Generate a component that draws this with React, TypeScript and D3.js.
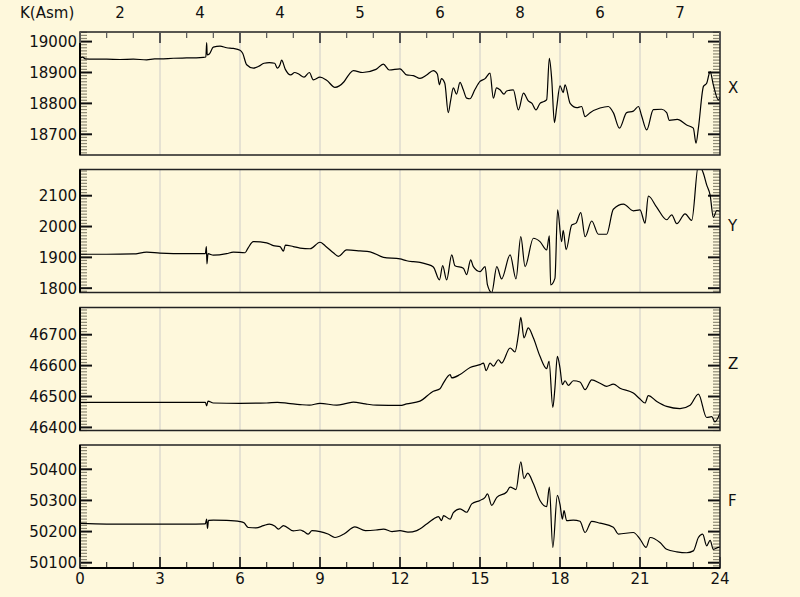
import React from "react";
import * as d3 from "d3";

const kHours = [1.5, 4.5, 7.5, 10.5, 13.5, 16.5, 19.5, 22.5];
const kValues = [2, 4, 4, 5, 6, 8, 6, 7];
const xTickHours = [0, 3, 6, 9, 12, 15, 18, 21, 24];

const seriesNames = ["X", "Y", "Z", "F"];
const seriesDomains: [number, number][] = [
  [18633, 19031],
  [1786, 2185],
  [46390, 46788],
  [50083, 50478],
];
const seriesMajorTicks = [
  [18700, 18800, 18900, 19000],
  [1800, 1900, 2000, 2100],
  [46400, 46500, 46600, 46700],
  [50100, 50200, 50300, 50400],
];

const xData: [number, number][] = [
  [0, 18946], [0.1, 18950], [0.2, 18944], [0.5, 18943], [1, 18943], [1.5, 18942], [2, 18943], [2.5, 18941], [2.8, 18944], [3, 18944], [3.5, 18946], [4, 18947], [4.5, 18948], [4.72, 18950], [4.75, 18997], [4.77, 18957], [4.85, 18960], [5.0, 18982], [5.25, 18985], [5.5, 18980], [5.75, 18978], [6.0, 18972], [6.1, 18962], [6.25, 18925], [6.5, 18914], [6.7, 18920], [6.9, 18930], [7.1, 18932], [7.3, 18930], [7.4, 18914], [7.5, 18925], [7.56, 18940], [7.7, 18910], [7.9, 18892], [8.05, 18900], [8.2, 18895], [8.4, 18885], [8.6, 18900], [8.75, 18876], [9.0, 18885], [9.25, 18875], [9.56, 18852], [9.9, 18870], [10.1, 18895], [10.25, 18906], [10.6, 18900], [11.1, 18910], [11.375, 18927], [11.6, 18908], [12, 18912], [12.25, 18892], [12.5, 18890], [12.75, 18881], [13.0, 18892], [13.25, 18906], [13.4, 18895], [13.48, 18860], [13.55, 18880], [13.68, 18865], [13.81, 18770], [13.9, 18810], [14.0, 18850], [14.12, 18830], [14.25, 18868], [14.37, 18845], [14.5, 18817], [14.62, 18815], [14.81, 18845], [15.0, 18871], [15.19, 18880], [15.375, 18898], [15.5, 18817], [15.62, 18850], [15.75, 18844], [15.9, 18830], [16.0, 18840], [16.25, 18844], [16.44, 18779], [16.63, 18833], [16.81, 18808], [16.95, 18800], [17.1, 18779], [17.25, 18800], [17.4, 18806], [17.5, 18812], [17.6, 18946], [17.69, 18877], [17.79, 18738], [17.88, 18790], [18.0, 18857], [18.12, 18835], [18.19, 18860], [18.38, 18800], [18.63, 18786], [18.81, 18790], [18.94, 18757], [19.13, 18770], [19.5, 18785], [19.81, 18790], [20.0, 18770], [20.23, 18720], [20.5, 18770], [20.75, 18775], [20.94, 18790], [21.06, 18760], [21.25, 18714], [21.5, 18780], [21.81, 18781], [22.0, 18770], [22.1, 18745], [22.4, 18748], [22.75, 18730], [23.0, 18720], [23.1, 18671], [23.19, 18720], [23.38, 18855], [23.5, 18865], [23.63, 18903], [23.75, 18860], [23.94, 18811], [24, 18820],
];

const yData: [number, number][] = [
  [0, 1910], [1, 1910], [2, 1911], [2.5, 1917], [3, 1914], [4, 1912], [4.7, 1912], [4.74, 1935], [4.76, 1879], [4.8, 1912], [5.0, 1907], [5.5, 1912], [5.75, 1917], [6.19, 1915], [6.3, 1930], [6.5, 1951], [7.0, 1947], [7.25, 1938], [7.5, 1935], [7.63, 1920], [7.7, 1940], [8.0, 1935], [8.25, 1930], [8.63, 1928], [9.0, 1949], [9.2, 1937], [9.5, 1915], [9.69, 1903], [10, 1924], [10.5, 1921], [10.88, 1918], [11.38, 1900], [12, 1895], [12.25, 1889], [12.5, 1886], [12.75, 1884], [13, 1878], [13.25, 1869], [13.48, 1827], [13.6, 1873], [13.75, 1827], [13.94, 1908], [14.06, 1873], [14.375, 1865], [14.5, 1844], [14.65, 1892], [14.75, 1870], [15.0, 1854], [15.19, 1870], [15.28, 1811], [15.44, 1786], [15.63, 1870], [15.81, 1830], [16.13, 1908], [16.35, 1830], [16.53, 1967], [16.69, 1870], [17.0, 1962], [17.25, 1951], [17.5, 1924], [17.6, 1970], [17.65, 1811], [17.81, 1832], [17.91, 2054], [18.06, 1951], [18.12, 1988], [18.23, 1925], [18.44, 2005], [18.6, 2011], [18.78, 2045], [18.94, 1967], [19.19, 2018], [19.44, 1975], [19.75, 1975], [20.0, 2056], [20.38, 2073], [20.75, 2051], [21.0, 2054], [21.19, 2011], [21.31, 2099], [21.63, 2062], [22.0, 2022], [22.19, 2038], [22.38, 2009], [22.69, 2041], [22.94, 2020], [23.19, 2200], [23.38, 2172], [23.5, 2135], [23.63, 2102], [23.75, 2030], [23.88, 2052], [24, 2050],
];

const zData: [number, number][] = [
  [0, 46481], [2, 46481], [4, 46481], [4.7, 46481], [4.75, 46470], [4.8, 46485], [5, 46479], [6, 46478], [7, 46479], [7.4, 46481], [7.8, 46478], [8.25, 46474], [8.6, 46472], [9, 46478], [9.63, 46472], [10.0, 46478], [10.25, 46482], [10.7, 46476], [11.13, 46472], [12, 46471], [12.25, 46476], [12.75, 46485], [13.25, 46517], [13.5, 46525], [13.63, 46544], [13.88, 46571], [13.94, 46560], [14.25, 46571], [14.63, 46594], [15.0, 46603], [15.13, 46608], [15.23, 46584], [15.38, 46608], [15.5, 46598], [15.69, 46619], [15.81, 46608], [16.13, 46657], [16.31, 46644], [16.44, 46700], [16.53, 46756], [16.65, 46690], [16.81, 46722], [17.0, 46690], [17.25, 46630], [17.5, 46590], [17.59, 46614], [17.73, 46465], [17.81, 46528], [17.9, 46630], [18.0, 46592], [18.09, 46538], [18.19, 46551], [18.31, 46536], [18.5, 46551], [18.75, 46547], [18.94, 46522], [19.19, 46554], [19.5, 46543], [19.75, 46533], [20, 46540], [20.25, 46527], [20.75, 46511], [21, 46492], [21.19, 46479], [21.31, 46503], [21.63, 46484], [22, 46468], [22.5, 46461], [22.88, 46472], [23.19, 46508], [23.5, 46432], [23.69, 46435], [23.81, 46418], [24, 46446],
];

const fData: [number, number][] = [
  [0, 50226], [1, 50224], [2, 50224], [3, 50224], [4, 50224], [4.7, 50225], [4.75, 50240], [4.78, 50210], [4.82, 50236], [5, 50237], [5.5, 50236], [6, 50232], [6.15, 50228], [6.31, 50213], [6.6, 50212], [6.88, 50219], [7.1, 50224], [7.3, 50218], [7.44, 50208], [7.63, 50219], [8, 50202], [8.25, 50205], [8.4, 50200], [8.56, 50192], [8.7, 50203], [9, 50200], [9.3, 50192], [9.56, 50181], [9.9, 50192], [10.31, 50215], [10.7, 50203], [11.1, 50205], [11.38, 50208], [11.7, 50200], [12, 50203], [12.3, 50198], [12.63, 50203], [13, 50224], [13.25, 50240], [13.44, 50248], [13.56, 50235], [13.63, 50251], [13.88, 50240], [14.0, 50261], [14.25, 50273], [14.5, 50262], [14.69, 50289], [15, 50300], [15.19, 50310], [15.28, 50321], [15.44, 50284], [15.63, 50310], [16, 50327], [16.13, 50343], [16.35, 50335], [16.53, 50424], [16.65, 50370], [16.79, 50388], [17, 50354], [17.25, 50300], [17.5, 50280], [17.6, 50343], [17.73, 50149], [17.9, 50316], [18.0, 50287], [18.09, 50240], [18.15, 50267], [18.25, 50235], [18.5, 50237], [18.75, 50233], [18.94, 50197], [19.19, 50233], [19.5, 50227], [20, 50214], [20.19, 50192], [20.75, 50197], [21, 50176], [21.23, 50149], [21.38, 50181], [21.75, 50165], [22, 50143], [22.38, 50135], [22.75, 50132], [23, 50138], [23.19, 50181], [23.35, 50192], [23.5, 50154], [23.63, 50172], [23.75, 50143], [23.94, 50149], [24, 50150],
];

const allData = [xData, yData, zData, fData];

const W = 800;
const H = 597;
const LEFT = 80;
const RIGHT = 720;
const PANEL_TOPS = [32, 169.5, 307.5, 445];
const PANEL_H = 123;
const FONT = "'DejaVu Sans', Verdana, sans-serif";
const BG = "#fef8dc";
const GRID = "#e6e2d2";
const MINOR = "#8c8872";

export default function App() {
  const x = d3.scaleLinear().domain([0, 24]).range([LEFT, RIGHT]);
  const hourTicks = d3.range(0, 25, 1);

  return (
    <svg
      width={W}
      height={H}
      style={{ position: "absolute", left: 0, top: 0, background: BG, display: "block" }}
      fontFamily={FONT}
    >
      <rect x={0} y={0} width={W} height={H} fill={BG} />
      <text x={20} y={18} fontSize={15} fill="#111">K(Asm)</text>
      {kValues.map((k, i) => (
        <text key={"k" + i} x={x(kHours[i])} y={18} fontSize={15} textAnchor="middle" fill="#111">
          {k}
        </text>
      ))}
      {allData.map((data, p) => {
        const top = PANEL_TOPS[p];
        const bottom = top + PANEL_H;
        const y = d3.scaleLinear().domain(seriesDomains[p]).range([bottom, top]);
        const line = d3
          .line<[number, number]>()
          .x((d) => x(d[0]))
          .y((d) => y(d[1]))
          .curve(d3.curveMonotoneX);
        const [lo, hi] = seriesDomains[p];
        const minorTicks = d3.range(Math.ceil(lo / 10) * 10, hi + 0.001, 10).filter((v) => v % 100 !== 0);
        const clipId = "clip" + p;
        return (
          <g key={"p" + p}>
            <defs>
              <clipPath id={clipId}>
                <rect x={LEFT} y={top} width={RIGHT - LEFT} height={PANEL_H} />
              </clipPath>
            </defs>
            {xTickHours.slice(1, -1).map((h) => (
              <line key={"g" + h} x1={x(h)} x2={x(h)} y1={top} y2={bottom} stroke={GRID} strokeWidth={2} />
            ))}
            {minorTicks.map((v) => (
              <g key={"mt" + v}>
                <line x1={LEFT} x2={LEFT + 7} y1={y(v)} y2={y(v)} stroke={MINOR} strokeWidth={1.2} />
                <line x1={RIGHT - 7} x2={RIGHT} y1={y(v)} y2={y(v)} stroke={MINOR} strokeWidth={1.2} />
              </g>
            ))}
            {seriesMajorTicks[p].map((v) => (
              <g key={"Mt" + v}>
                <line x1={LEFT} x2={LEFT + 12} y1={y(v)} y2={y(v)} stroke="#111" strokeWidth={2} />
                <line x1={RIGHT - 12} x2={RIGHT} y1={y(v)} y2={y(v)} stroke="#111" strokeWidth={2} />
                <text x={LEFT - 3} y={y(v)} dy="0.36em" fontSize={15} textAnchor="end" fill="#111">
                  {v}
                </text>
              </g>
            ))}
            <path d={line(data) || ""} fill="none" stroke="#000" strokeWidth={1.2} clipPath={`url(#${clipId})`} strokeLinejoin="round" />
            <rect x={LEFT} y={top} width={RIGHT - LEFT} height={PANEL_H} fill="none" stroke="#222" strokeWidth={1.5} />
            <line x1={LEFT} x2={LEFT} y1={top} y2={bottom} stroke="#000" strokeWidth={2} />
            <text x={728} y={top + 56} dy="0.36em" fontSize={15} fill="#111">
              {seriesNames[p]}
            </text>
            {p === 0 &&
              hourTicks.map((h) => (
                <line key={"tt" + h} x1={x(h)} x2={x(h)} y1={top} y2={top + (h % 3 === 0 ? 11 : 6)} stroke="#555" strokeWidth={h % 3 === 0 ? 2 : 1.2} />
              ))}
            {p === 3 &&
              hourTicks.map((h) => (
                <line key={"bt" + h} x1={x(h)} x2={x(h)} y1={bottom} y2={bottom - (h % 3 === 0 ? 11 : 6)} stroke="#333" strokeWidth={h % 3 === 0 ? 2 : 1.2} />
              ))}
            {p === 3 && <line x1={LEFT} x2={RIGHT} y1={bottom} y2={bottom} stroke="#000" strokeWidth={2} />}
          </g>
        );
      })}
      {xTickHours.map((h) => (
        <text key={"xl" + h} x={x(h)} y={584} fontSize={15} textAnchor="middle" fill="#111">
          {h}
        </text>
      ))}
    </svg>
  );
}
